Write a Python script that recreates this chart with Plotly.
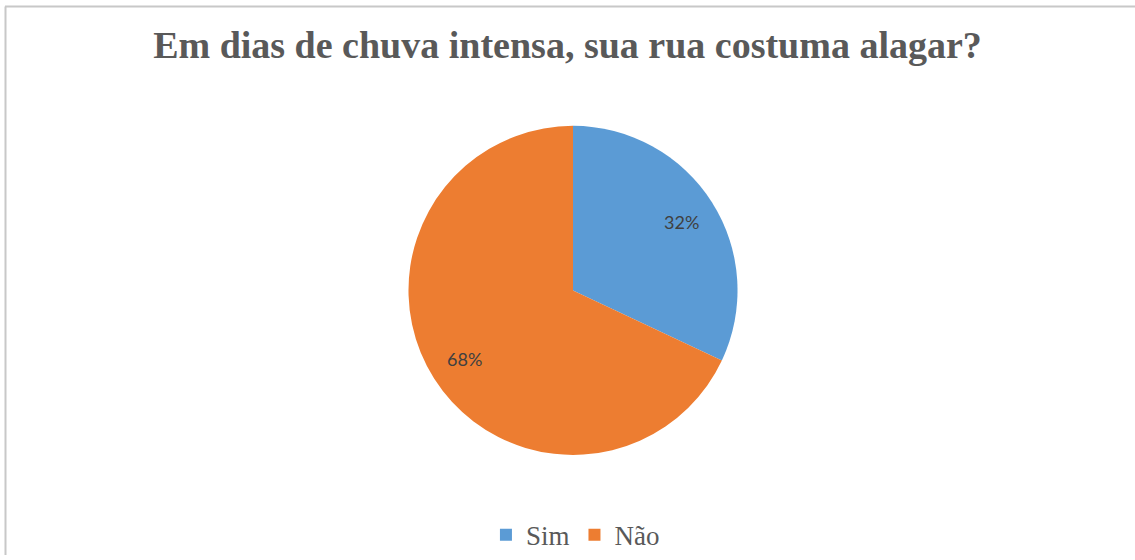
import math
import plotly.graph_objects as go

labels = ["Sim", "Não"]
values = [32, 68]
colors = ["#5B9BD5", "#ED7D31"]
title_text = "Em dias de chuva intensa, sua rua costuma alagar?"

W, H = 1135, 560
cx, cy, r = 573, 293, 166  # pixel centre / radius of pie

dom_x = [(cx - r) / W, (cx + r) / W]
dom_y = [(H - (cy + r)) / H, (H - (cy - r)) / H]

fig = go.Figure()
fig.add_trace(go.Pie(
    labels=labels,
    values=values,
    marker=dict(colors=colors, line=dict(width=0)),
    sort=False,
    direction="clockwise",
    rotation=0,
    textinfo="none",
    hoverinfo="label+percent",
    domain=dict(x=dom_x, y=dom_y),
    showlegend=True,
))

# percentage labels placed along each slice's bisector
total = sum(values)
cum = 0
annotations = []
for lab, v in zip(labels, values):
    mid = (cum + v / 2) / total * 2 * math.pi
    cum += v
    rr = 0.775 * r
    px = cx + rr * math.sin(mid)
    py = cy - rr * math.cos(mid)
    annotations.append(dict(
        x=px / W, y=(H - py) / H, xref="paper", yref="paper",
        text=f"{round(v / total * 100)}%", showarrow=False,
        font=dict(family="Lato, Open Sans, sans-serif", size=18, color="#404040"),
        xanchor="center", yanchor="middle",
    ))

fig.update_layout(
    width=W, height=H,
    margin=dict(l=0, r=0, t=0, b=0),
    paper_bgcolor="white",
    plot_bgcolor="white",
    title=dict(
        text=title_text,
        x=0.5, xref="paper", xanchor="center",
        y=1 - 45 / H, yref="container", yanchor="middle",
        font=dict(family="Liberation Serif, Times New Roman, serif", size=38,
                  color="#595959", weight="bold"),
    ),
    legend=dict(
        orientation="h",
        x=0.507, xanchor="center",
        y=20 / H, yanchor="middle",
        font=dict(family="Liberation Serif, Times New Roman, serif", size=27, color="#595959"),
        itemwidth=30,
        bgcolor="rgba(0,0,0,0)",
    ),
    annotations=annotations,
    shapes=[
        dict(type="line", xref="paper", yref="paper", x0=5 / W, x1=1, y0=1 - 6.5 / H, y1=1 - 6.5 / H,
             line=dict(color="#C8C8C8", width=2)),
        dict(type="line", xref="paper", yref="paper", x0=5.5 / W, x1=5.5 / W, y0=0, y1=1 - 6.5 / H,
             line=dict(color="#C8C8C8", width=2)),
    ],
)

fig.write_html("out.html")
